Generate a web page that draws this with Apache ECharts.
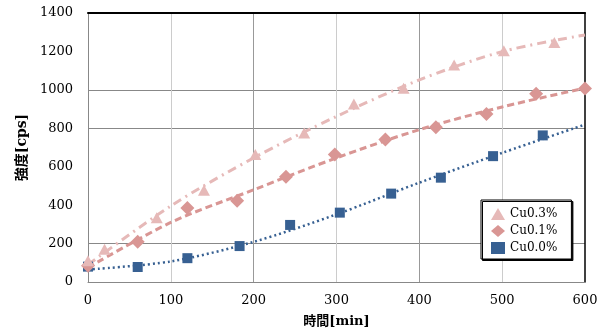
<!DOCTYPE html>
<html>
<head>
<meta charset="utf-8">
<script src="https://cdn.jsdelivr.net/npm/echarts@6/dist/echarts.min.js"></script>
<style>
  html, body { margin: 0; padding: 0; background: #fff; }
  #chart { width: 606px; height: 333px; }
</style>
</head>
<body>
<div id="chart"></div>
<script>
// measured points
var cu3X = [0, 20, 83, 140, 202, 261, 321, 381, 442, 502, 563];
var cu3Y = [110, 171, 335, 478, 663, 776, 926, 1009, 1130, 1204, 1246];
var cu1X = [0, 60, 120, 180, 239, 298, 359, 420, 481, 541, 600];
var cu1Y = [85, 209, 385, 423, 548, 663, 741, 805, 874, 980, 1007];
var cu0X = [0, 60, 120, 183, 244, 304, 366, 426, 489, 549];
var cu0Y = [80, 78, 124, 187, 297, 361, 460, 543, 655, 763];

// trend lines
var trendX = [0, 100, 200, 300, 400, 500, 600];
var trend3 = [90, 396, 646, 862, 1052, 1199, 1286];
var trend1 = [75, 310, 480, 646, 793, 911, 1009];
var trend0 = [65, 107, 209, 352, 517, 672, 819];

var names = ['Cu0.3%', 'Cu0.1%', 'Cu0.0%'];

function pairs(xs, ys) {
  return xs.map(function (x, i) { return [x, ys[i]]; });
}

var serif = 'DejaVu Serif';
var none = 'rgba(0,0,0,0)';

var chart = echarts.init(document.getElementById('chart'));
chart.setOption({
  animation: false,
  grid: { left: 88, right: 21, top: 13, bottom: 50 },
  legend: {
    orient: 'vertical',
    left: 481, top: 200,
    padding: [8, 14, 5, 10],
    itemGap: 5,
    itemWidth: 14, itemHeight: 12,
    backgroundColor: '#fff',
    borderColor: '#000', borderWidth: 1,
    shadowColor: '#000', shadowOffsetX: 1.5, shadowOffsetY: 1.5, shadowBlur: 0,
    textStyle: { fontFamily: serif, fontSize: 12, color: '#000' },
    data: [
      { name: names[0], icon: 'triangle' },
      { name: names[1], icon: 'diamond' },
      { name: names[2], icon: 'rect' }
    ]
  },
  xAxis: [{
    type: 'value', min: 0, max: 600, interval: 100,
    name: '時間[min]', nameLocation: 'middle', nameGap: 33,
    nameTextStyle: { fontFamily: serif + ', Noto Sans CJK JP', fontSize: 13, fontWeight: 'bold', color: '#000' },
    axisLine: { lineStyle: { color: '#888', width: 1 } },
    axisTick: { show: false },
    axisLabel: { margin: 12, fontFamily: serif, fontSize: 13, color: '#000' },
    splitLine: { lineStyle: { color: [none, '#ccc', '#999', '#ccc', '#999', '#ccc', none], width: 1 } }
  }, {
    type: 'value', min: 0, max: 600, position: 'top',
    axisLine: { show: true, onZero: false, lineStyle: { color: '#000', width: 2 } },
    axisTick: { show: false }, axisLabel: { show: false }, splitLine: { show: false }
  }],
  yAxis: [{
    type: 'value', min: 0, max: 1400, interval: 200,
    name: '強度[cps]', nameLocation: 'middle', nameGap: 53, nameRotate: 90,
    nameTextStyle: { fontFamily: serif + ', Noto Sans CJK JP', fontSize: 14, fontWeight: 'bold', color: '#000' },
    axisLine: { show: true, lineStyle: { color: '#888', width: 1 } },
    axisTick: { show: false },
    axisLabel: { margin: 15, fontFamily: serif, fontSize: 13, color: '#000',
      formatter: function (v) { return String(v); } },
    splitLine: { lineStyle: { color: [none, '#888', none, none, '#888', '#888', none, none], width: 1 } }
  }, {
    type: 'value', min: 0, max: 1400, position: 'right',
    axisLine: { show: true, onZero: false, lineStyle: { color: '#000', width: 1.5 } },
    axisTick: { show: false }, axisLabel: { show: false }, splitLine: { show: false }
  }],
  series: [
    {
      name: 'trend0', type: 'line', smooth: 0.3, showSymbol: false, z: 1,
      data: pairs(trendX, trend0),
      lineStyle: { color: '#376092', width: 2.5, type: [2, 3] }
    },
    {
      name: 'trend1', type: 'line', smooth: 0.3, showSymbol: false, z: 1,
      data: pairs(trendX, trend1),
      lineStyle: { color: '#D99694', width: 3, type: [7, 4] }
    },
    {
      name: 'trend3', type: 'line', smooth: 0.3, showSymbol: false, z: 1,
      data: pairs(trendX, trend3),
      lineStyle: { color: '#E6B9B8', width: 3, type: [9, 5, 2, 5] }
    },
    {
      name: names[2], type: 'scatter', symbol: 'rect', symbolSize: 10, z: 3,
      itemStyle: { color: '#376092', opacity: 1 },
      data: pairs(cu0X, cu0Y)
    },
    {
      name: names[1], type: 'scatter', symbol: 'diamond', symbolSize: 14, z: 4,
      itemStyle: { color: '#D99694', opacity: 1 },
      data: pairs(cu1X, cu1Y)
    },
    {
      name: names[0], type: 'scatter', symbol: 'triangle', symbolSize: [12, 11], z: 5,
      itemStyle: { color: '#E6B9B8', opacity: 1 },
      data: pairs(cu3X, cu3Y)
    }
  ]
});
</script>
</body>
</html>
